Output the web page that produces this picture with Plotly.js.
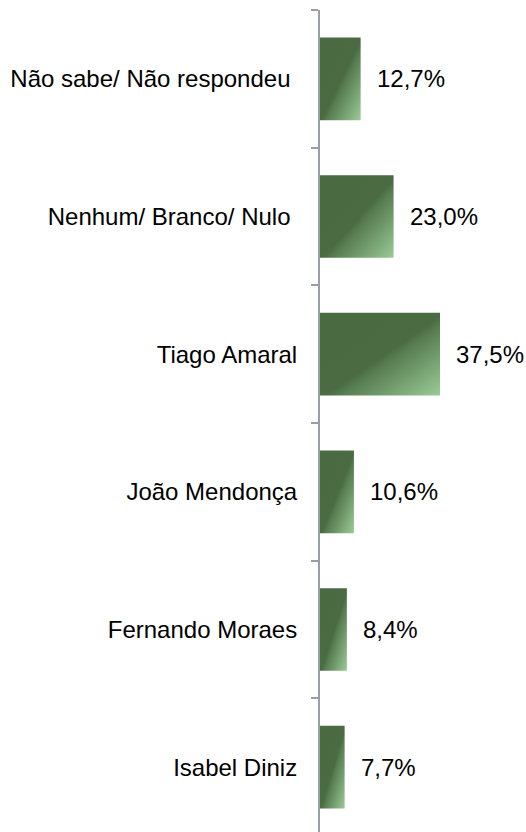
<!DOCTYPE html>
<html>
<head>
<meta charset="utf-8">
<script src="https://cdn.plot.ly/plotly-3.0.1.min.js"></script>
<style>
  html, body { margin: 0; padding: 0; background: #ffffff; overflow: hidden; }
  #chart { width: 526px; height: 836px; }
</style>
</head>
<body>
<div id="chart"></div>
<script>
// Categories top to bottom
const categories = [
  "Não sabe/ Não respondeu ",
  "Nenhum/ Branco/ Nulo ",
  "Tiago Amaral",
  "João Mendonça",
  "Fernando Moraes",
  "Isabel Diniz"
];
const values = [12.7, 23.0, 37.5, 10.6, 8.4, 7.7];
const valueLabels = ["12,7%", "23,0%", "37,5%", "10,6%", "8,4%", "7,7%"];

const FONT = "Liberation Sans, Arial, sans-serif";
const AXIS_GRAY = "#9a9ea6";

const data = [{
  type: "bar",
  orientation: "h",
  y: categories,
  x: values,
  marker: { color: "#4a6b43", line: { width: 0 } },
  hoverinfo: "none"
}];

const annotations = categories.map((c, i) => ({
  x: values[i],
  y: c,
  xref: "x",
  yref: "y",
  text: valueLabels[i],
  showarrow: false,
  xanchor: "left",
  yanchor: "middle",
  xshift: 14,
  font: { family: FONT, size: 24, color: "#000000" }
}));

const layout = {
  width: 526,
  height: 836,
  margin: { l: 320, r: 14, t: 10, b: 0, pad: 0 },
  paper_bgcolor: "#ffffff",
  plot_bgcolor: "#ffffff",
  showlegend: false,
  bargap: 0.4,
  xaxis: {
    range: [0, 60],
    visible: false,
    fixedrange: true
  },
  yaxis: {
    type: "category",
    autorange: "reversed",
    tickson: "boundaries",
    ticks: "outside",
    ticklen: 7,
    tickwidth: 2,
    tickcolor: AXIS_GRAY,
    showline: true,
    linecolor: AXIS_GRAY,
    linewidth: 2,
    showgrid: false,
    zeroline: false,
    ticklabelstandoff: 16,
    tickfont: { family: FONT, size: 24, color: "#000000" },
    fixedrange: true
  },
  annotations: annotations
};

Plotly.newPlot("chart", data, layout, { staticPlot: true, displayModeBar: false }).then(gd => {
  const ns = "http://www.w3.org/2000/svg";
  const svg = gd.querySelector(".main-svg");
  let defs = svg.querySelector("defs");
  if (!defs) { defs = document.createElementNS(ns, "defs"); svg.insertBefore(defs, svg.firstChild); }
  const lg = document.createElementNS(ns, "linearGradient");
  lg.setAttribute("id", "barGrad");
  lg.setAttribute("x1", "0"); lg.setAttribute("y1", "0");
  lg.setAttribute("x2", "1"); lg.setAttribute("y2", "1");
  [["0", "#4a6a42"], ["0.52", "#4b6b43"], ["0.58", "#577c50"], ["1", "#9acb97"]].forEach(([o, c]) => {
    const s = document.createElementNS(ns, "stop");
    s.setAttribute("offset", o);
    s.setAttribute("stop-color", c);
    lg.appendChild(s);
  });
  defs.appendChild(lg);
  gd.querySelectorAll(".bars .point path").forEach(p => { p.style.fill = "url(#barGrad)"; });
});
</script>
</body>
</html>
